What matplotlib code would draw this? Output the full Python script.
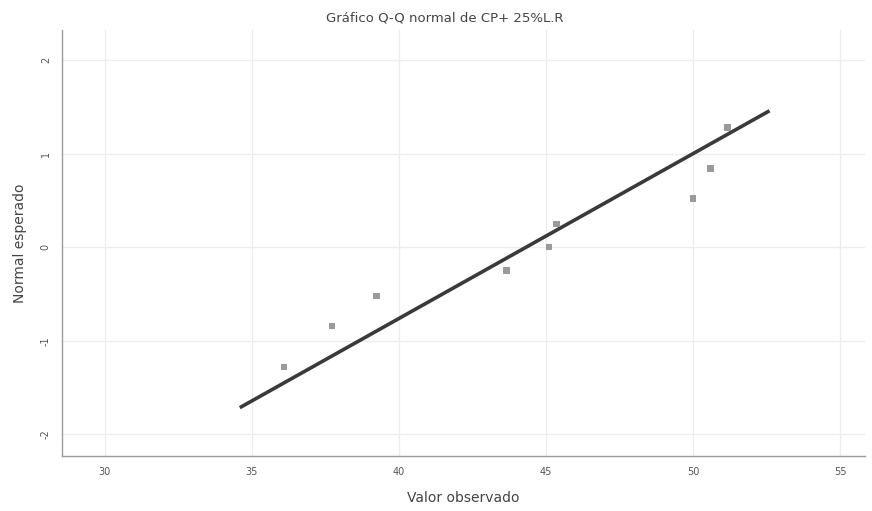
import matplotlib
matplotlib.use("Agg")
import matplotlib.pyplot as plt
import numpy as np

# Data
observed = [36.10, 37.73, 39.24, 43.66, 45.11, 45.36, 50.00, 50.60, 51.17]
expected = [-1.28, -0.84, -0.52, -0.25, 0.00, 0.25, 0.52, 0.84, 1.28]
line_x = [34.65, 52.55]
x_ticks = [30, 35, 40, 45, 50, 55]
y_ticks = [-2, -1, 0, 1, 2]

mean = np.mean(observed)
sd = np.std(observed, ddof=1)
line_y = [(v - mean) / sd for v in line_x]

fig = plt.figure(figsize=(8.72, 5.11), dpi=100)
ax = fig.add_axes([0.071, 0.108, 0.921, 0.833])

ax.plot(line_x, line_y, color="#3a3a3a", lw=2.6, zorder=3)
ax.scatter(observed, expected, s=22, marker="s", color="#9a9a9a", edgecolor="none", zorder=4)

ax.set_xlim(28.55, 55.85)
ax.set_ylim(-2.23, 2.32)
ax.set_xticks(x_ticks)
ax.set_yticks(y_ticks)
ax.set_yticklabels([str(v) for v in y_ticks], rotation=90, va="center")
ax.tick_params(axis="both", labelsize=7, colors="#555555", length=0, pad=8)
ax.grid(True, color="#ececec", lw=0.9)
for s in ["top", "right"]:
    ax.spines[s].set_visible(False)
for s in ["left", "bottom"]:
    ax.spines[s].set_color("#9a9a9a")
    ax.spines[s].set_linewidth(1.0)

ax.set_xlabel("Valor observado", fontsize=10, color="#444444", labelpad=10)
ax.set_ylabel("Normal esperado", fontsize=10, color="#444444", labelpad=10)
fig.text(0.51, 0.965, "Gráfico Q-Q normal de CP+ 25%L.R", ha="center", va="center",
         fontsize=9.5, color="#444444")

fig.savefig("out.png", dpi=100)
